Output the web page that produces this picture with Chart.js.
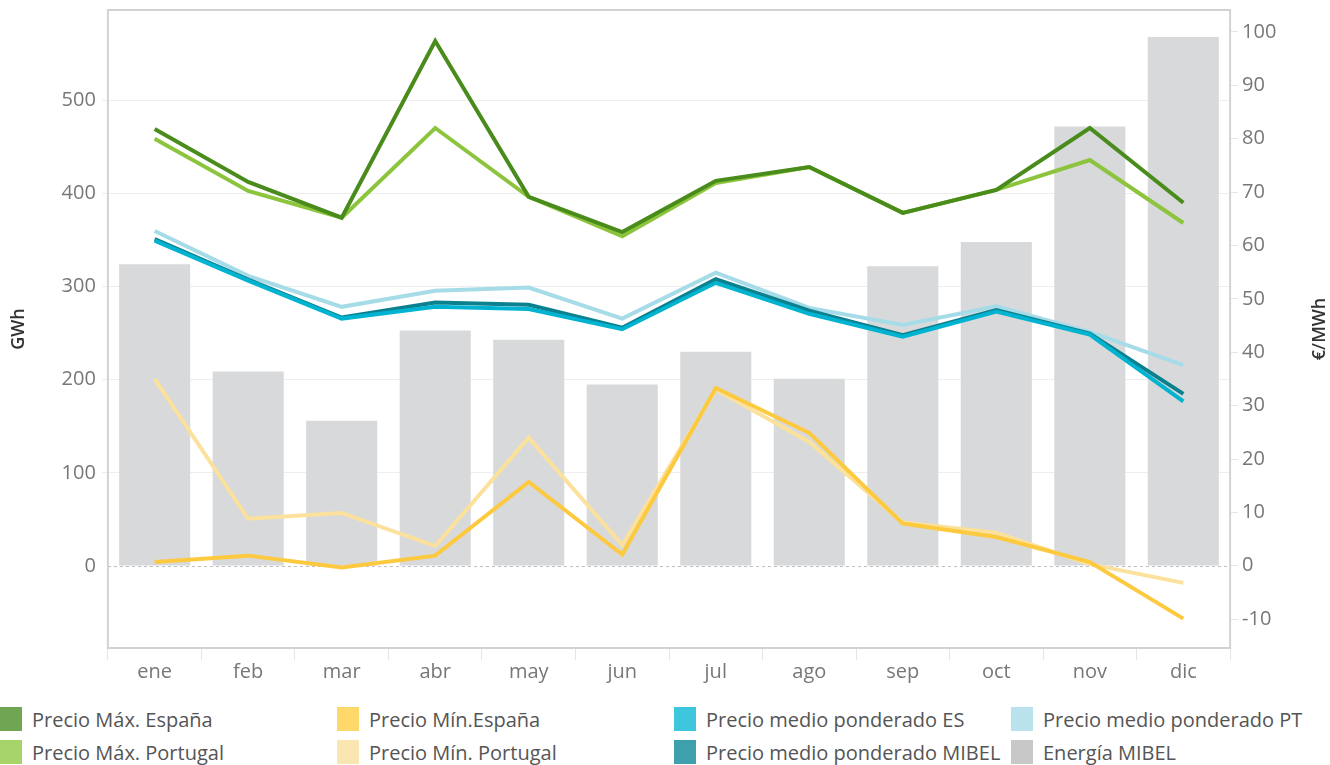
<!DOCTYPE html>
<html>
<head>
    <title>Precios y energía MIBEL</title>
    <script src="https://cdn.jsdelivr.net/npm/chart.js"></script>
    <style>
        body { margin: 0; background: #fff; font-family: "Open Sans", sans-serif; }
        #wrap { position: relative; width: 1330px; height: 765px; }
        #legend {
            position: absolute; left: 0; top: 707px; width: 1330px;
            display: grid; grid-template-columns: 337px 337px 337px 319px; row-gap: 9px;
        }
        .item { display: flex; align-items: center; height: 24px; font-size: 20px; color: #555; white-space: nowrap; }
        .sw { width: 22px; height: 24px; margin-right: 10px; flex: none; }
    </style>
</head>
<body>

<div id="wrap">
    <canvas id="chart" width="1330" height="684" style="position:absolute;left:0;top:0;"></canvas>
    <div id="legend"></div>
</div>

<script>
    // months and values
    const months = ['ene', 'feb', 'mar', 'abr', 'may', 'jun', 'jul', 'ago', 'sep', 'oct', 'nov', 'dic'];
    const energiaMibel = [324, 209, 156, 253, 243, 195, 230, 201, 322, 348, 472, 568];          // GWh
    const maxEspana   = [81.8, 71.9, 65.2, 98.3, 69.1, 62.5, 72.1, 74.7, 66.1, 70.4, 82.0, 68.0]; // €/MWh
    const maxPortugal = [80.0, 70.2, 65.2, 82.0, 69.1, 61.7, 71.7, 74.7, 66.1, 70.4, 76.0, 64.2];
    const minEspana   = [0.7, 1.9, -0.3, 1.9, 15.7, 2.1, 33.3, 24.9, 7.9, 5.4, 0.7, -9.9];
    const minPortugal = [35.0, 8.8, 9.9, 3.7, 24.0, 3.9, 33.0, 23.2, 8.1, 6.2, 0.3, -3.2];
    const medioES     = [60.9, 53.4, 46.3, 48.5, 48.1, 44.3, 53.0, 47.2, 42.9, 47.6, 43.3, 30.8];
    const medioMIBEL  = [61.2, 53.6, 46.5, 49.3, 48.9, 44.6, 53.7, 47.8, 43.2, 47.9, 43.5, 32.2];
    const medioPT     = [62.7, 54.3, 48.5, 51.5, 52.1, 46.3, 54.9, 48.3, 45.1, 48.6, 43.8, 37.6];

    const leftTicks = [0, 100, 200, 300, 400, 500];
    const rightTicks = [-10, 0, 10, 20, 30, 40, 50, 60, 70, 80, 90, 100];

    function line(label, data, color, order, swatch) {
        return {
            type: 'line', label: label, data: data, yAxisID: 'y1',
            borderColor: color, backgroundColor: color, borderWidth: 4,
            pointRadius: 0, tension: 0, order: order, swatch: swatch
        };
    }

    const datasets = [
        line('Precio Máx. España', maxEspana, '#4a8c1c', 1, '#70a553'),
        line('Precio Máx. Portugal', maxPortugal, '#8cc43e', 5, '#a6d46a'),
        line('Precio Mín.España', minEspana, '#fdc93e', 2, '#fed96a'),
        line('Precio Mín. Portugal', minPortugal, '#fbe19c', 6, '#fae6b0'),
        line('Precio medio ponderado ES', medioES, '#00b3d0', 3, '#3ec6dc'),
        line('Precio medio ponderado MIBEL', medioMIBEL, '#0b8190', 4, '#3fa0ad'),
        line('Precio medio ponderado PT', medioPT, '#a6dbe8', 7, '#b9e2ec'),
        {
            type: 'bar', label: 'Energía MIBEL', data: energiaMibel, yAxisID: 'y',
            backgroundColor: '#d8d9db', categoryPercentage: 1, barPercentage: 0.76,
            order: 10, swatch: '#c8c8c9'
        }
    ];

    const titleFont = {family: 'Open Sans', size: 18, weight: '600'};

    // frame round the plot, dashed zero line, and the right title read bottom-up
    const framePlugin = {
        id: 'frame',
        beforeDatasetsDraw(chart) {
            const {ctx, chartArea: a} = chart;
            const y0 = chart.scales.y.getPixelForValue(0);
            ctx.save();
            ctx.strokeStyle = '#bdbdbd';
            ctx.lineWidth = 1;
            ctx.setLineDash([3, 3]);
            ctx.beginPath();
            ctx.moveTo(a.left, y0 + 0.5);
            ctx.lineTo(a.right, y0 + 0.5);
            ctx.stroke();
            ctx.restore();
        },
        afterDraw(chart) {
            const {ctx, chartArea: a} = chart;
            ctx.save();
            ctx.strokeStyle = '#d2d2d2';
            ctx.lineWidth = 2;
            ctx.strokeRect(a.left, a.top, a.right - a.left, a.bottom - a.top);

            const r = chart.scales.y1;
            ctx.translate(r.right - 10, (a.top + a.bottom) / 2);
            ctx.rotate(-Math.PI / 2);
            ctx.fillStyle = '#333';
            ctx.font = '600 18px "Open Sans"';
            ctx.textAlign = 'center';
            ctx.textBaseline = 'middle';
            ctx.fillText(r.options.title.text, 0, 0);
            ctx.restore();
        }
    };

    const tickFont = {family: 'Open Sans', size: 20};
    // tick labels may stick out above the plot, as in the original
    const noEdgePadding = s => { s.paddingTop = 0; s.paddingBottom = 0; };

    new Chart(document.getElementById('chart'), {
        data: {labels: months, datasets: datasets},
        options: {
            responsive: false,
            animation: false,
            layout: {padding: {left: 4, right: 0, top: 10, bottom: 0}},
            plugins: {legend: {display: false}, tooltip: {enabled: false}},
            scales: {
                x: {
                    offset: true,
                    grid: {offset: true, drawOnChartArea: false, color: '#e6e6e6', tickLength: 12},
                    border: {display: false},
                    ticks: {color: '#777', font: tickFont, padding: 0}
                },
                y: {
                    position: 'left', min: -88, max: 597,
                    afterBuildTicks: axis => { axis.ticks = leftTicks.map(v => ({value: v})); },
                    afterFit: noEdgePadding,
                    grid: {color: ctx => ctx.tick && ctx.tick.value === 0 ? 'rgba(0,0,0,0)' : '#eeeeee', tickLength: 6},
                    border: {display: false},
                    ticks: {color: '#777', font: tickFont, padding: 6},
                    title: {display: true, text: 'GWh', color: '#333', font: titleFont, padding: {bottom: 26}}
                },
                y1: {
                    position: 'right', min: -15.4, max: 104.1,
                    afterBuildTicks: axis => { axis.ticks = rightTicks.map(v => ({value: v})); },
                    afterFit: noEdgePadding,
                    grid: {drawOnChartArea: false, color: '#e6e6e6', tickLength: 8},
                    border: {display: false},
                    ticks: {color: '#777', font: tickFont, padding: 4},
                    // space is kept here, the text itself is drawn by the plugin
                    title: {display: true, text: '€/MWh', color: 'rgba(0,0,0,0)', font: titleFont, padding: {top: 24}}
                }
            }
        },
        plugins: [framePlugin]
    });

    // legend in four columns, two rows, as in the original
    const legendOrder = [0, 2, 4, 6, 1, 3, 5, 7];
    const legend = document.getElementById('legend');
    legendOrder.forEach(i => {
        const d = datasets[i];
        const item = document.createElement('div');
        item.className = 'item';
        item.innerHTML = '<span class="sw" style="background:' + d.swatch + '"></span>' + d.label;
        legend.appendChild(item);
    });
</script>
</body>
</html>
